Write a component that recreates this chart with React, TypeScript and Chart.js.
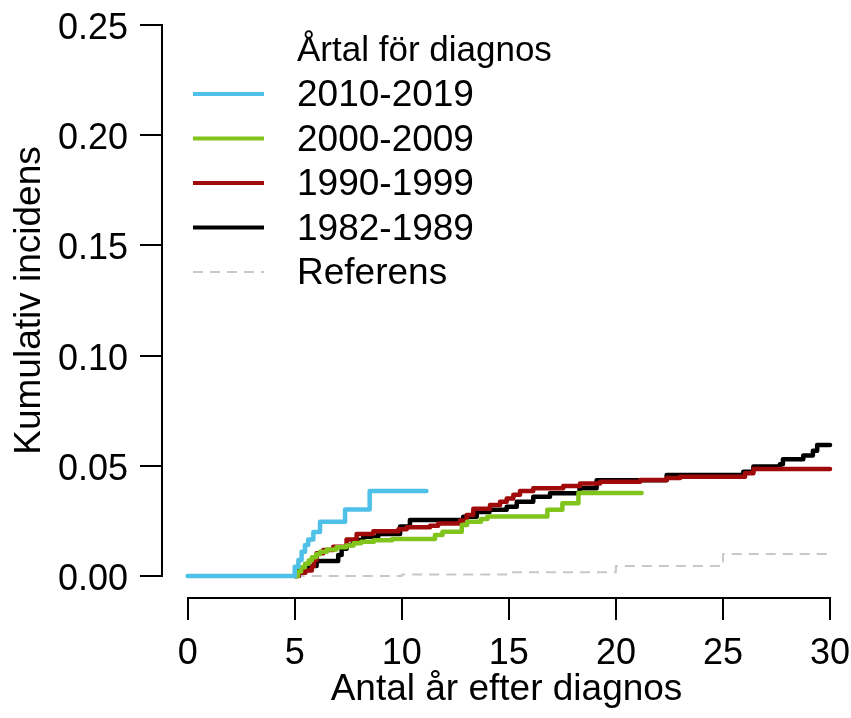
import { useEffect, useRef } from "react";
import { Chart, registerables } from "chart.js";

Chart.register(...registerables);

const FONT = '"Liberation Sans", Arial, Helvetica, sans-serif';

const legendTitle = "Årtal för diagnos";
const xTitle = "Antal år efter diagnos";
const yTitle = "Kumulativ incidens";

const xTicks = [0, 5, 10, 15, 20, 25, 30];
const yTicks = [0, 0.05, 0.1, 0.15, 0.2, 0.25];

const seriesLabels = ["2010-2019", "2000-2009", "1990-1999", "1982-1989", "Referens"];
const seriesColors = ["#4FC1E9", "#80C41C", "#A00A0A", "#000000", "#C8C8C8"];

// Cumulative incidence step curves (years since diagnosis, incidence from that year on)
const years2010 = [0, 5.0, 5.17, 5.32, 5.48, 5.63, 5.87, 6.18, 7.35, 8.5, 11.15];
const inc2010 = [0, 0.0042, 0.0073, 0.011, 0.014, 0.0165, 0.02, 0.0246, 0.0302, 0.0385, 0.0385];

const years2000 = [5.0, 5.15, 5.3, 5.48, 5.65, 5.8, 6.0, 6.18, 6.5, 6.95, 7.4, 7.75, 8.1, 8.7, 9.55, 11.55, 11.9, 12.8, 13.05, 13.7, 14.0, 16.8, 17.5, 18.25, 21.2];
const inc2000 = [0, 0.002, 0.004, 0.0055, 0.007, 0.0085, 0.0098, 0.011, 0.012, 0.013, 0.0138, 0.0148, 0.0155, 0.0162, 0.0168, 0.0186, 0.0201, 0.0231, 0.0246, 0.0258, 0.027, 0.03, 0.033, 0.0377, 0.0377];

const years1990 = [5.0, 5.2, 5.5, 5.8, 5.9, 6.02, 6.33, 6.8, 7.42, 7.89, 8.67, 9.84, 10.23, 11.32, 11.7, 12.72, 13.03, 13.34, 14.12, 14.59, 14.9, 15.21, 15.52, 16.14, 17.54, 18.32, 19.26, 21.13, 22.37, 23.0, 26.03, 26.42, 30];
const inc1990 = [0, 0.0015, 0.0025, 0.0045, 0.0073, 0.0103, 0.0118, 0.0133, 0.0166, 0.019, 0.0203, 0.0212, 0.0221, 0.0228, 0.0238, 0.0252, 0.0277, 0.0305, 0.0322, 0.0337, 0.0352, 0.0368, 0.0385, 0.0398, 0.0408, 0.042, 0.0428, 0.0436, 0.0445, 0.045, 0.0466, 0.0485, 0.0485];

const years1982 = [5.0, 5.1, 5.6, 6.02, 7.03, 7.19, 7.42, 7.73, 8.2, 8.9, 9.92, 10.38, 12.87, 13.5, 14.1, 14.9, 15.37, 16.14, 16.92, 18.3, 19.1, 22.37, 25.95, 26.42, 27.66, 27.8, 28.75, 29.2, 29.4, 30];
const inc1982 = [0, 0.003, 0.0045, 0.0068, 0.0095, 0.0123, 0.014, 0.0163, 0.0178, 0.019, 0.0224, 0.0254, 0.0269, 0.029, 0.03, 0.0314, 0.0337, 0.036, 0.0375, 0.0398, 0.0434, 0.0458, 0.0473, 0.0497, 0.0507, 0.053, 0.0547, 0.0568, 0.0594, 0.0594];

const yearsRef = [5, 10, 15, 20, 25, 30];
const incRef = [0, 0.0007, 0.0017, 0.0045, 0.01, 0.01];

const toPoints = (xs: number[], ys: number[]) => xs.map((x, i) => ({ x, y: ys[i] }));

// R-style axis lines spanning only from the first to the last tick
const axisLinesPlugin = {
  id: "axisLines",
  afterDraw(chart: any) {
    const { ctx, chartArea, scales } = chart;
    const x = scales.x;
    const y = scales.y;
    ctx.save();
    ctx.strokeStyle = "#000";
    ctx.lineWidth = 2;
    ctx.lineCap = "butt";
    ctx.beginPath();
    ctx.moveTo(chartArea.left, Math.round(y.getPixelForValue(yTicks[0])) + 1);
    ctx.lineTo(chartArea.left, Math.round(y.getPixelForValue(yTicks[yTicks.length - 1])) - 1);
    ctx.moveTo(Math.round(x.getPixelForValue(xTicks[0])) - 1, chartArea.bottom);
    ctx.lineTo(Math.round(x.getPixelForValue(xTicks[xTicks.length - 1])) + 1, chartArea.bottom);
    ctx.stroke();
    ctx.restore();
  },
};

// Borderless legend with a title, placed inside the plot region
const legendPlugin = {
  id: "insetLegend",
  afterDraw(chart: any) {
    const { ctx } = chart;
    const lineX0 = 193;
    const lineX1 = 264;
    const textX = 297;
    const titleY = 51;
    const firstRowY = 94;
    const rowGap = 44.5;
    ctx.save();
    ctx.fillStyle = "#000";
    ctx.textAlign = "left";
    ctx.textBaseline = "middle";
    ctx.font = `35px ${FONT}`;
    ctx.fillText(legendTitle, textX, titleY);
    ctx.font = `37px ${FONT}`;
    chart.data.datasets.forEach((ds: any, i: number) => {
      const rowY = firstRowY + i * rowGap;
      ctx.save();
      ctx.strokeStyle = ds.borderColor;
      ctx.lineWidth = ds.borderDash ? 2 : 4;
      ctx.setLineDash(ds.borderDash || []);
      ctx.lineCap = "butt";
      ctx.beginPath();
      ctx.moveTo(lineX0, rowY);
      ctx.lineTo(lineX1, rowY);
      ctx.stroke();
      ctx.restore();
      ctx.fillText(ds.label, textX, rowY + 2);
    });
    ctx.restore();
  },
};

export default function App() {
  const canvasRef = useRef<HTMLCanvasElement | null>(null);

  useEffect(() => {
    if (!canvasRef.current) return;
    const makeSeries = (i: number, xs: number[], ys: number[], extra: any = {}) => ({
      label: seriesLabels[i],
      data: toPoints(xs, ys),
      borderColor: seriesColors[i],
      backgroundColor: seriesColors[i],
      borderWidth: 4.5,
      stepped: true,
      pointRadius: 0,
      fill: false,
      borderCapStyle: "round",
      borderJoinStyle: "round",
      ...extra,
    });

    const tickFont = { family: FONT, size: 36, lineHeight: 1.2 };
    const titleFont = { family: FONT, size: 37, lineHeight: 1.2 };

    const chart = new Chart(canvasRef.current, {
      type: "line",
      data: {
        datasets: [
          makeSeries(0, years2010, inc2010),
          makeSeries(1, years2000, inc2000),
          makeSeries(2, years1990, inc1990),
          makeSeries(3, years1982, inc1982),
          makeSeries(4, yearsRef, incRef, { borderWidth: 2, borderDash: [10, 7], borderCapStyle: "butt" }),
        ],
      },
      options: {
        animation: false,
        responsive: false,
        devicePixelRatio: 1,
        layout: { padding: { top: 3, left: 0, right: 0, bottom: 0 } },
        plugins: {
          legend: { display: false },
          tooltip: { enabled: false },
        },
        scales: {
          x: {
            type: "linear",
            min: -1.2,
            max: 30.98,
            afterBuildTicks: (s: any) => {
              s.ticks = xTicks.map((v) => ({ value: v }));
            },
            afterFit: (s: any) => {
              s.height = 120;
              s.paddingLeft = 0;
              s.paddingRight = 0;
            },
            grid: { drawOnChartArea: false, drawTicks: true, tickLength: 22, color: "#000", lineWidth: 2 },
            border: { display: false },
            ticks: {
              font: tickFont,
              color: "#000",
              padding: 12,
              maxRotation: 0,
              autoSkip: false,
              callback: (v: any) => String(v),
            },
            title: {
              display: true,
              text: xTitle,
              color: "#000",
              font: titleFont,
              padding: { top: 0, bottom: 6 },
            },
          },
          y: {
            type: "linear",
            min: -0.01,
            max: 0.26,
            afterBuildTicks: (s: any) => {
              s.ticks = yTicks.map((v) => ({ value: v }));
            },
            afterFit: (s: any) => {
              s.width = 162;
              s.paddingTop = 0;
              s.paddingBottom = 0;
            },
            grid: { drawOnChartArea: false, drawTicks: true, tickLength: 22, color: "#000", lineWidth: 2 },
            border: { display: false },
            ticks: {
              font: tickFont,
              color: "#000",
              padding: 12,
              labelOffset: 4,
              autoSkip: false,
              callback: (v: any) => Number(v).toFixed(2),
            },
            title: {
              display: true,
              text: yTitle,
              color: "#000",
              font: titleFont,
              padding: { top: 8, bottom: 0 },
            },
          },
        },
      } as any,
      plugins: [axisLinesPlugin, legendPlugin],
    });
    return () => chart.destroy();
  }, []);

  return (
    <div style={{ position: "absolute", left: 0, top: 0, width: 851, height: 718, background: "#fff" }}>
      <canvas ref={canvasRef} width={851} height={718} />
    </div>
  );
}
